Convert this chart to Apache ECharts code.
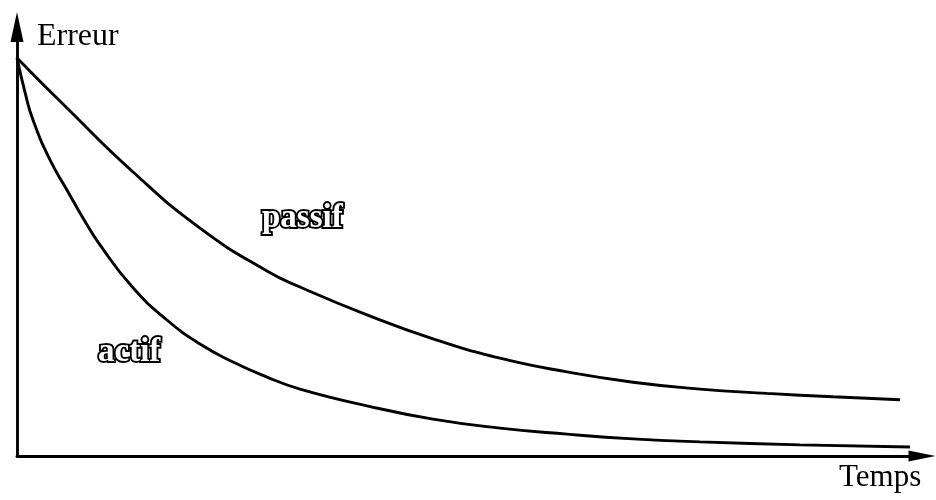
<!DOCTYPE html>
<html>
<head>
<meta charset="utf-8">
<script src="https://cdn.jsdelivr.net/npm/echarts@6/dist/echarts.min.js"></script>
<style>
  html, body { margin: 0; padding: 0; background: #fff; }
  #chart { width: 936px; height: 500px; }
</style>
</head>
<body>
<div id="chart"></div>
<script>
// Temps (0..100) and Erreur (0..100) for both learning strategies
const passifTemps = [0, 5.52, 12.82, 20.22, 27.62, 31.27, 38.67, 45.97, 53.37, 60.77, 68.07, 75.47, 82.87, 90.17, 97.57];
const passifErreur = [92.8, 81.1, 66.2, 53.1, 43.1, 39.4, 32.9, 27.3, 22.8, 19.6, 17.2, 15.6, 14.6, 13.8, 13.1];

const actifTemps = [0, 0.88, 1.77, 3.65, 5.52, 7.29, 9.17, 12.82, 16.57, 20.22, 23.87, 27.62, 31.27, 38.67, 45.97, 53.37, 60.77, 68.07, 75.47, 86.52, 98.67];
const actifErreur = [92.8, 84.8, 78.3, 69.0, 62.0, 55.5, 49.2, 39.2, 31.7, 26.1, 21.9, 18.4, 15.6, 11.7, 8.6, 6.5, 5.1, 4.0, 3.3, 2.6, 2.1];

const axisNames = { y: 'Erreur', x: 'Temps' };
const seriesNames = { passif: 'passif', actif: 'actif' };

const pair = (xs, ys) => xs.map((x, i) => [x, ys[i]]);

const serif = '"Liberation Serif", "DejaVu Serif", serif';

const chart = echarts.init(document.getElementById('chart'), null, { renderer: 'canvas' });

const curveStyle = { color: '#000', width: 2.9 };

// Inline-engraved lettering for the curve labels
const outlinedLabel = (text, x, y) => ({
  type: 'text',
  x: x,
  y: y,
  style: {
    text: text,
    font: 'bold 33px ' + serif,
    fill: '#fff',
    stroke: '#000',
    lineWidth: 3.8,
    textAlign: 'left',
    textVerticalAlign: 'middle',
    shadowColor: 'rgba(0,0,0,0.85)',
    shadowOffsetX: -1.5,
    shadowOffsetY: 1.5,
    shadowBlur: 0
  }
});

chart.setOption({
  backgroundColor: '#fff',
  animation: false,
  grid: { left: 17, right: 14, top: 27, bottom: 44 },
  xAxis: {
    type: 'value',
    min: 0,
    max: 100,
    axisLine: {
      show: true,
      onZero: false,
      lineStyle: { color: '#000', width: 2.9 },
      symbol: ['none', 'triangle'],
      symbolSize: [11, 27]
    },
    axisTick: { show: false },
    axisLabel: { show: false },
    splitLine: { show: false }
  },
  yAxis: {
    type: 'value',
    min: 0,
    max: 100,
    axisLine: {
      show: true,
      onZero: false,
      lineStyle: { color: '#000', width: 2.9 },
      symbol: ['none', 'triangle'],
      symbolSize: [13, 30]
    },
    axisTick: { show: false },
    axisLabel: { show: false },
    splitLine: { show: false }
  },
  series: [
    {
      name: seriesNames.passif,
      type: 'line',
      data: pair(passifTemps, passifErreur),
      smooth: 0.5,
      showSymbol: false,
      lineStyle: curveStyle
    },
    {
      name: seriesNames.actif,
      type: 'line',
      data: pair(actifTemps, actifErreur),
      smooth: 0.5,
      showSymbol: false,
      lineStyle: curveStyle
    }
  ],
  graphic: [
    {
      type: 'text',
      x: 37,
      y: 37,
      style: {
        text: axisNames.y,
        font: '32px ' + serif,
        fill: '#000',
        textAlign: 'left',
        textVerticalAlign: 'middle'
      }
    },
    {
      type: 'text',
      x: 839,
      y: 478,
      style: {
        text: axisNames.x,
        font: '31px ' + serif,
        fill: '#000',
        textAlign: 'left',
        textVerticalAlign: 'middle'
      }
    },
    outlinedLabel(seriesNames.passif, 262, 218),
    outlinedLabel(seriesNames.actif, 98, 352)
  ]
});
</script>
</body>
</html>
